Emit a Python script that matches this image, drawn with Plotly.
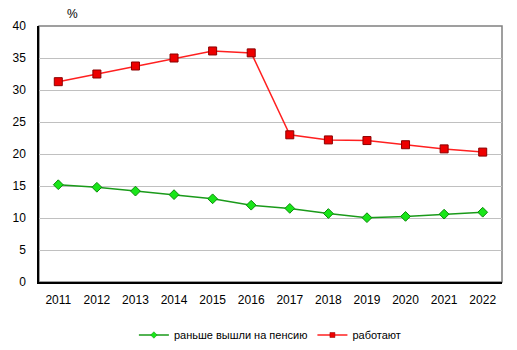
import plotly.graph_objects as go

years = [str(y) for y in range(2011, 2023)]
retired_early = [15.2, 14.8, 14.2, 13.65, 13.0, 12.0, 11.5, 10.7, 10.05, 10.25, 10.6, 10.9]
working = [31.3, 32.5, 33.75, 35.0, 36.1, 35.8, 23.0, 22.2, 22.1, 21.45, 20.8, 20.3]
y_ticks = [0, 5, 10, 15, 20, 25, 30, 35, 40]
names = ["раньше вышли на пенсию", "работают"]

green_line = "#1a9a1a"
green_fill = "#19e619"
green_edge = "#0a8a0a"
red_line = "#ff2020"
red_fill = "#ee0000"
red_edge = "#8b0000"

fig = go.Figure()
fig.add_trace(go.Scatter(x=years, y=retired_early, mode="lines+markers", showlegend=False,
                         line=dict(color=green_line, width=1.5),
                         marker=dict(symbol="diamond", size=7.5, color=green_fill,
                                     line=dict(color=green_edge, width=1))))
fig.add_trace(go.Scatter(x=years, y=working, mode="lines+markers", showlegend=False,
                         line=dict(color=red_line, width=1.5),
                         marker=dict(symbol="square", size=8, color=red_fill,
                                     line=dict(color=red_edge, width=1))))
# legend-only entries with smaller markers
fig.add_trace(go.Scatter(x=[None], y=[None], mode="lines+markers", name=names[0],
                         line=dict(color=green_line, width=1.5),
                         marker=dict(symbol="diamond", size=5, color=green_fill,
                                     line=dict(color=green_edge, width=0.5))))
fig.add_trace(go.Scatter(x=[None], y=[None], mode="lines+markers", name=names[1],
                         line=dict(color=red_line, width=1.5),
                         marker=dict(symbol="square", size=5, color=red_fill,
                                     line=dict(color=red_edge, width=0.5))))

fig.update_layout(
    width=517, height=350,
    margin=dict(l=39, r=15, t=26, b=68, autoexpand=False),
    paper_bgcolor="white", plot_bgcolor="white",
    font=dict(family="Liberation Sans, Arial, sans-serif", size=12, color="black"),
    showlegend=True,
    legend=dict(orientation="h", x=0.523, xanchor="center", xref="container",
                y=(350 - 335) / 350, yanchor="middle", yref="container",
                font=dict(size=11), itemwidth=30, tracegroupgap=0),
    xaxis=dict(type="category", range=[-0.5, 11.5], showgrid=False, showline=True,
               linecolor="black", linewidth=1.5, ticks="", ticklabelstandoff=6,
               zeroline=False, automargin=False),
    yaxis=dict(range=[0, 40], tickvals=y_ticks, showgrid=True, gridcolor="#c0c0c0",
               gridwidth=1, showline=True, linecolor="black", linewidth=1.5, ticks="",
               ticklabelstandoff=9, zeroline=False, automargin=False),
    shapes=[dict(type="rect", xref="paper", yref="paper", x0=0, x1=1, y0=0, y1=1,
                 line=dict(color="#808080", width=1.5), layer="below")],
    annotations=[dict(text="%", xref="paper", yref="paper", x=0.056, y=1, yshift=12,
                      showarrow=False, font=dict(size=12), yanchor="middle")],
)

fig.write_html("out.html")
